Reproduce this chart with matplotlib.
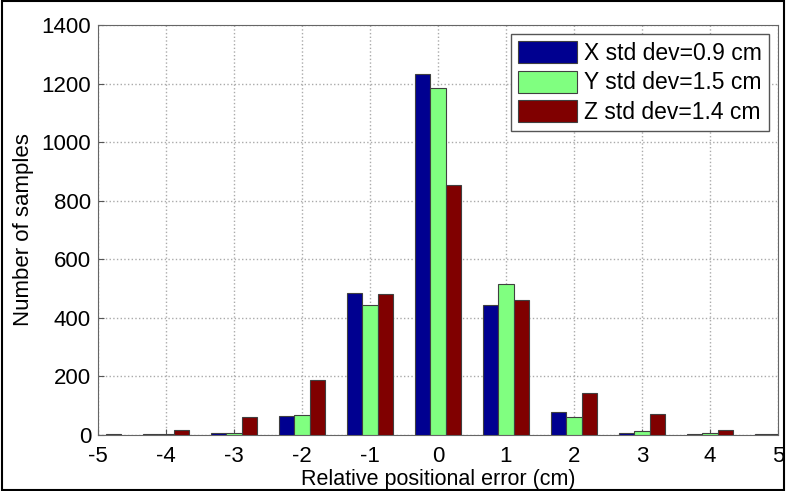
import numpy as np
import matplotlib.pyplot as plt
from matplotlib.patches import Rectangle

plt.rcParams['font.family'] = ['Liberation Sans', 'DejaVu Sans']
plt.rcParams['axes.unicode_minus'] = False

errors = [-5, -4, -3, -2, -1, 0, 1, 2, 3, 4, 5]
x_counts = [0, 2, 8, 65, 485, 1232, 443, 78, 8, 2, 2]
y_counts = [0, 3, 8, 70, 445, 1185, 515, 62, 15, 8, 3]
z_counts = [5, 18, 60, 188, 480, 855, 460, 145, 72, 18, 0]
labels = ["X std dev=0.9 cm", "Y std dev=1.5 cm", "Z std dev=1.4 cm"]
colors = ["#000090", "#80ff80", "#800000"]

fig = plt.figure(figsize=(7.86, 4.91), dpi=100)
ax = fig.add_axes([98 / 786, 1 - 435 / 491, 680 / 786, 410 / 491])

pos = np.array(errors, dtype=float)
w = 0.225
for i, (vals, lab, c) in enumerate(zip([x_counts, y_counts, z_counts], labels, colors)):
    ax.bar(pos + (i - 1) * w, vals, width=w, color=c, edgecolor="#404040",
           linewidth=0.8, label=lab, zorder=3)

ax.set_xlim(-5, 5)
ax.set_ylim(0, 1400)
ax.set_xticks(errors)
ax.set_yticks(range(0, 1401, 200))
ax.tick_params(labelsize=16, direction="in", length=4, colors="#555555",
               labelcolor="black")
ax.tick_params(axis="x", pad=8)
ax.tick_params(axis="y", pad=5)
ax.grid(True, ls=":", color="#aaaaaa", lw=1, zorder=0)
for s in ax.spines.values():
    s.set_color("#666666")
ax.set_xlabel("Relative positional error (cm)", fontsize=15.5, labelpad=1)
ax.set_ylabel("Number of samples", fontsize=16, labelpad=5)

leg = ax.legend(loc="upper right", fontsize=16.5, frameon=True, fancybox=False,
                framealpha=1, edgecolor="#555555", handlelength=2.6,
                handleheight=1.1, borderaxespad=0.4, labelspacing=0.25,
                handletextpad=0.3, borderpad=0.3)

fig.patches.append(Rectangle((0.002, 0.002), 0.996, 0.996, transform=fig.transFigure,
                             fill=False, edgecolor="black", lw=1.5))

fig.savefig("out.png", dpi=100, facecolor="white")
